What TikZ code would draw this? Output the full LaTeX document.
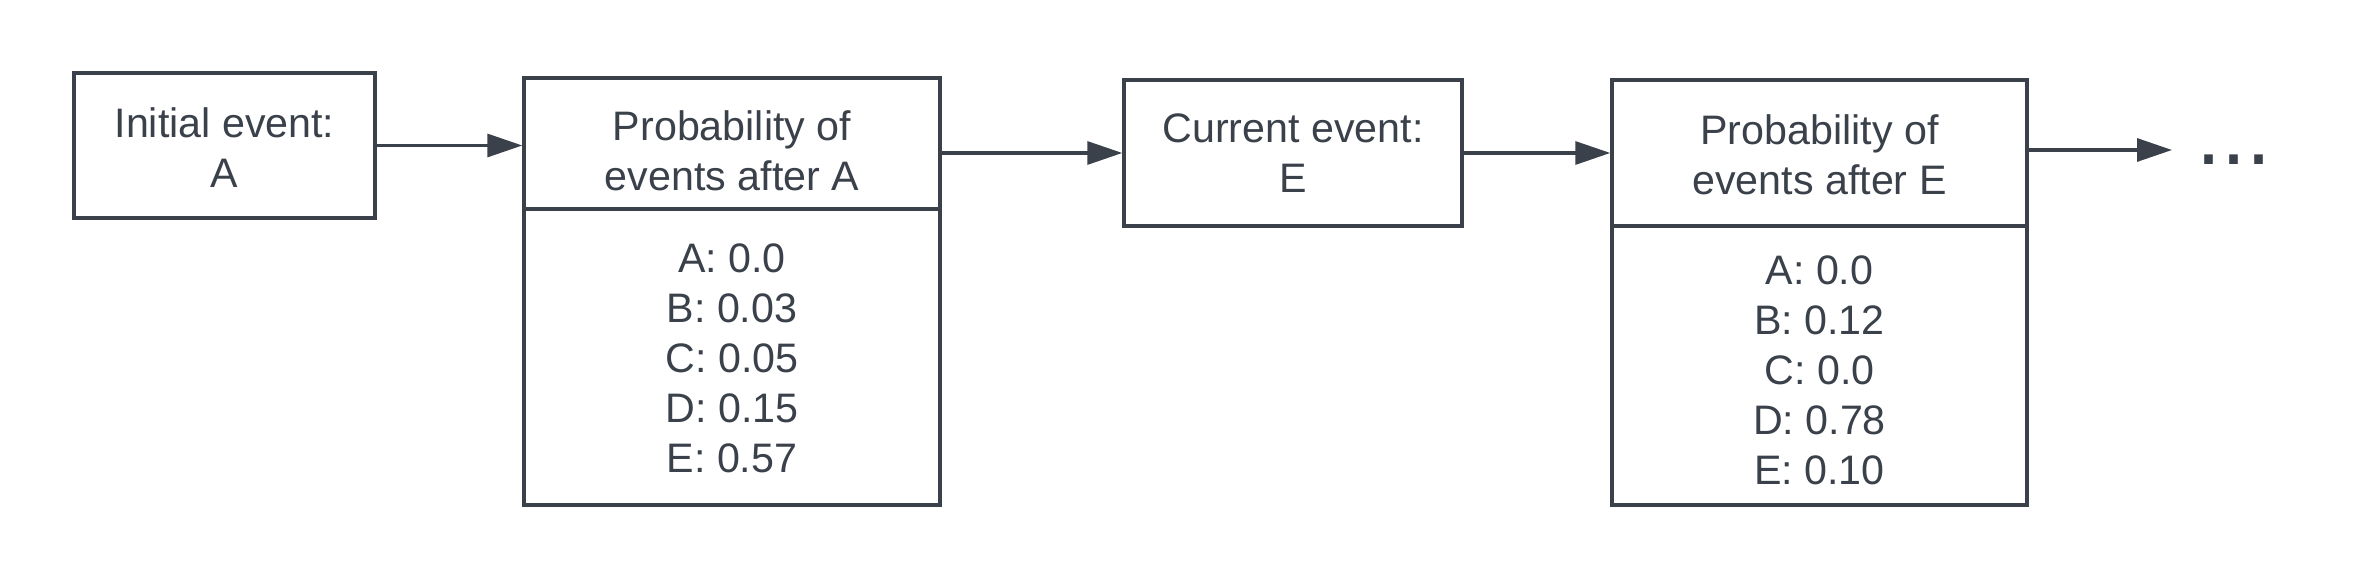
\documentclass[tikz,border=0pt]{standalone}
\usepackage{fontspec}
\setmainfont{Liberation Sans}
\usetikzlibrary{arrows.meta,calc}
\definecolor{ink}{RGB}{58,65,74}
\begin{document}
\begin{tikzpicture}[
  box/.style={draw=ink, line width=1.7pt, rectangle, inner sep=0pt},
  txt/.style={inner sep=0pt, text=ink, align=center, font=\fontsize{20.6pt}{25pt}\selectfont},
  arr/.style={draw=ink, line width=1.6pt, -{Triangle[length=17.5pt,width=11.5pt]}}
]
\useasboundingbox[fill=white] (0pt,0pt) rectangle (1181.5pt,-290.5pt);
\node[box, minimum width=150.5pt, minimum height=72.5pt] (b1) at (112.25pt,-72.75pt) {};
\node[box, minimum width=208pt, minimum height=65.5pt] (b2h) at (366pt,-71.75pt) {};
\node[box, minimum width=208pt, minimum height=148pt] (b2b) at (366pt,-178.5pt) {};
\node[box, minimum width=169pt, minimum height=73pt] (b3) at (646.5pt,-76.5pt) {};
\node[box, minimum width=207.5pt, minimum height=73pt] (b4h) at (909.75pt,-76.5pt) {};
\node[box, minimum width=207.5pt, minimum height=139.5pt] (b4b) at (909.75pt,-182.75pt) {};
\node[txt, yshift=-1pt] (t1) at (b1) {Initial event:\\A};
\node[txt, yshift=-3.5pt] (t2h) at (b2h) {Probability of\\events after A};
\node[txt, yshift=-0.75pt] (t2b) at (b2b) {A: 0.0\\B: 0.03\\C: 0.05\\D: 0.15\\E: 0.57};
\node[txt, yshift=-0.25pt] (t3) at (b3) {Current event:\\E};
\node[txt, yshift=-1pt] (t4h) at (b4h) {Probability of\\events after E};
\node[txt, yshift=-2.25pt] (t4b) at (b4b) {A: 0.0\\B: 0.12\\C: 0.0\\D: 0.78\\E: 0.10};
\node[anchor=base west, inner sep=0pt, text=ink, font=\fontsize{45pt}{45pt}\selectfont] (dots) at (1098pt,-82.5pt) {...};
\coordinate (end) at (1086pt,-75pt);
\draw[arr] (b1.east) -- (b1.east -| b2h.west);
\draw[arr] (b3.west -| b2h.east) -- (b3.west);
\draw[arr] (b3.east) -- (b3.east -| b4h.west);
\draw[arr] (b4h.east |- end) -- (end);
\end{tikzpicture}
\end{document}
